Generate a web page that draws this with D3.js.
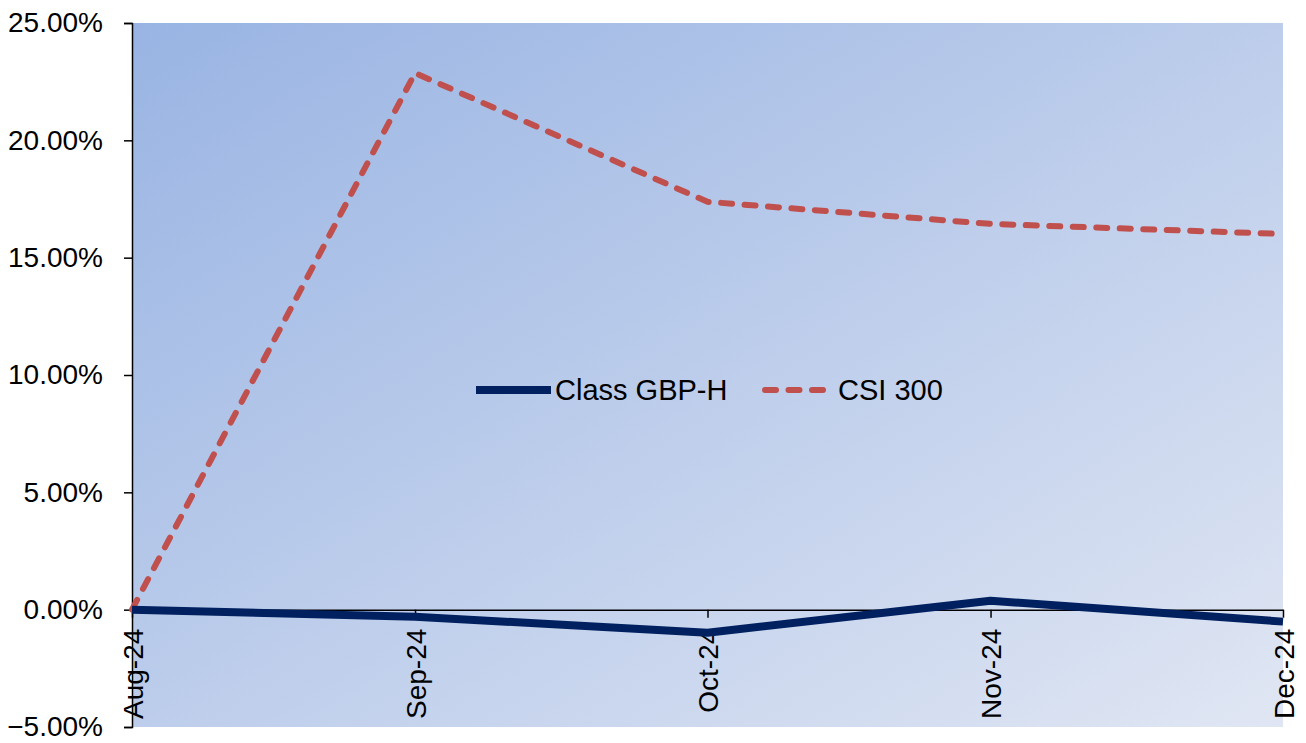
<!DOCTYPE html>
<html>
<head>
<meta charset="utf-8">
<script src="https://cdn.jsdelivr.net/npm/d3@7/dist/d3.min.js"></script>
<style>
  html, body { margin: 0; padding: 0; background: #ffffff; }
  svg { display: block; font-family: "Liberation Sans", Arial, sans-serif; }
</style>
</head>
<body>
<svg id="chart" width="1306" height="743"></svg>
<script>
// Month-end observation dates
const dates = ["2024-08-31", "2024-09-30", "2024-10-31", "2024-11-30", "2024-12-31"];
const dateLabels = ["Aug-24", "Sep-24", "Oct-24", "Nov-24", "Dec-24"];

// Cumulative performance (fraction)
const classGbpH = [0.0000, -0.0030, -0.0098, 0.0038, -0.0051];
const csi300 = [0.0000, 0.2287, 0.1738, 0.1644, 0.1601];

const yTicks = [-0.05, 0, 0.05, 0.10, 0.15, 0.20, 0.25];
const seriesNames = ["Class GBP-H", "CSI 300"];

const parse = d3.timeParse("%Y-%m-%d");
const xDates = dates.map(parse);

const svg = d3.select("#chart");
const margin = { left: 132, right: 23, top: 23, bottom: 16 };
const W = 1306, H = 743;
const plotW = W - margin.left - margin.right;
const plotH = H - margin.top - margin.bottom;

const x = d3.scaleTime()
  .domain(d3.extent(xDates))
  .range([margin.left, margin.left + plotW]);
const y = d3.scaleLinear()
  .domain([-0.05, 0.25])
  .range([margin.top + plotH, margin.top]);

// Plot area gradient fill
const defs = svg.append("defs");
const grad = defs.append("linearGradient")
  .attr("id", "plotBg")
  .attr("x1", 0).attr("y1", 0).attr("x2", 1).attr("y2", 1);
grad.append("stop").attr("offset", "0%").attr("stop-color", "#99b4e3");
grad.append("stop").attr("offset", "100%").attr("stop-color", "#e0e6f3");

svg.append("rect")
  .attr("x", margin.left)
  .attr("y", margin.top)
  .attr("width", plotW)
  .attr("height", plotH)
  .attr("fill", "url(#plotBg)");

// Y axis
const yAxis = d3.axisLeft(y)
  .tickValues(yTicks)
  .tickFormat(d3.format(".2%"))
  .tickSize(8)
  .tickPadding(21);
const yG = svg.append("g")
  .attr("transform", `translate(${margin.left},0)`)
  .call(yAxis);
yG.select(".domain").attr("stroke", "#000").attr("stroke-width", 1.5);
yG.selectAll(".tick line").attr("stroke", "#000").attr("stroke-width", 1.5);
yG.selectAll(".tick text")
  .attr("font-size", 28)
  .attr("fill", "#000")
  .style("font-family", "'Liberation Sans', Arial, sans-serif");

// X axis along zero line
const xAxis = d3.axisBottom(x)
  .tickValues(xDates)
  .tickFormat((d, i) => dateLabels[i])
  .tickSize(8)
  .tickSizeOuter(0);
const xG = svg.append("g")
  .attr("transform", `translate(0,${y(0)})`)
  .call(xAxis);
xG.select(".domain").attr("stroke", "#000").attr("stroke-width", 1.5);
xG.selectAll(".tick line").attr("stroke", "#000").attr("stroke-width", 1.5);
xG.selectAll(".tick text")
  .attr("font-size", 28)
  .attr("fill", "#000")
  .style("font-family", "'Liberation Sans', Arial, sans-serif")
  .attr("text-anchor", "end")
  .attr("transform", "rotate(-90)")
  .attr("x", -19)
  .attr("y", 0)
  .attr("dy", "0.36em");

// Lines
const lineGen = d3.line()
  .x((d, i) => x(xDates[i]))
  .y(d => y(d));

svg.append("path")
  .datum(csi300)
  .attr("d", lineGen)
  .attr("fill", "none")
  .attr("stroke", "#c0504d")
  .attr("stroke-width", 6)
  .attr("stroke-linecap", "round")
  .attr("stroke-linejoin", "round")
  .attr("stroke-dasharray", "11,12.5");

svg.append("path")
  .datum(classGbpH)
  .attr("d", lineGen)
  .attr("fill", "none")
  .attr("stroke", "#002060")
  .attr("stroke-width", 8)
  .attr("stroke-linejoin", "round");

// Legend
const legend = svg.append("g").attr("transform", "translate(476,390)");
legend.append("line")
  .attr("x1", 0).attr("x2", 75).attr("y1", 0).attr("y2", 0)
  .attr("stroke", "#002060").attr("stroke-width", 8);
legend.append("text")
  .attr("x", 79).attr("y", 0).attr("dy", "0.36em")
  .attr("font-size", 29).attr("fill", "#000")
  .text(seriesNames[0]);
legend.append("line")
  .attr("x1", 289).attr("x2", 355).attr("y1", 0).attr("y2", 0)
  .attr("stroke", "#c0504d").attr("stroke-width", 6)
  .attr("stroke-linecap", "round")
  .attr("stroke-dasharray", "11,12.5");
legend.append("text")
  .attr("x", 362).attr("y", 0).attr("dy", "0.36em")
  .attr("font-size", 29).attr("fill", "#000")
  .text(seriesNames[1]);
</script>
</body>
</html>
